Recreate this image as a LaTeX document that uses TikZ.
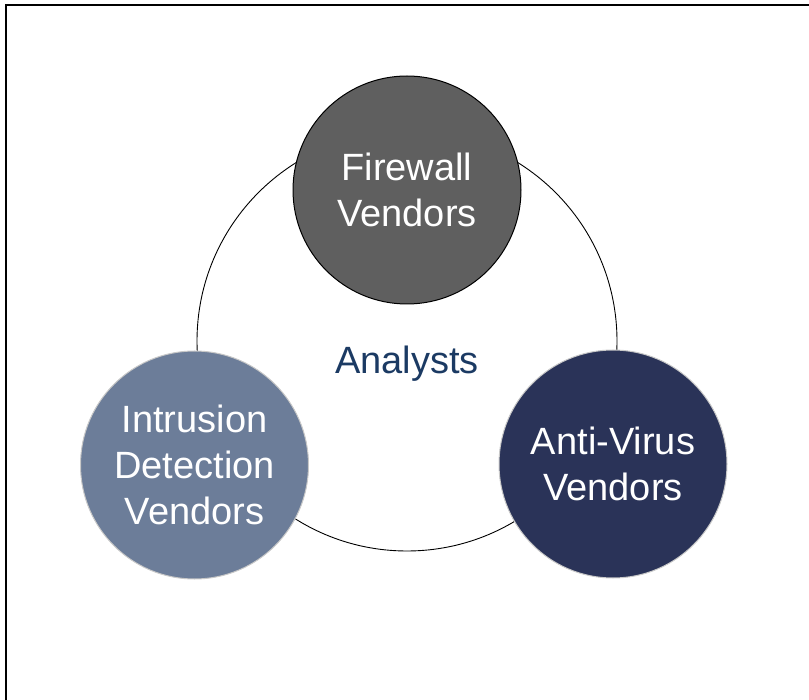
\documentclass[tikz,border=0pt]{standalone}
\usepackage{fontspec}
\setmainfont{Liberation Sans}
\definecolor{fwfill}{HTML}{5F5F5F}
\definecolor{idfill}{HTML}{6C7D99}
\definecolor{avfill}{HTML}{2A3358}
\definecolor{ringgray}{HTML}{C8C8C8}
\definecolor{analystblue}{HTML}{1B3A63}
\tikzset{
  vendor/.style={circle, minimum size=228pt, inner sep=0pt, align=center,
    text=white, font=\fontsize{38}{46}\selectfont, line width=1pt},
}
\begin{document}
\begin{tikzpicture}[x=1pt,y=-1pt]
\useasboundingbox (0,0) rectangle (809,700);
% frame
\coordinate (fr) at (809,5.5);
\coordinate (fc) at (5.5,5.5);
\coordinate (fb) at (5.5,700);
\draw[line width=2pt] (fr) -- (fc) -- (fb);
% big ring
\node[circle, draw=black, line width=0.9pt, minimum size=420pt, inner sep=0pt] (ring) at (407,341) {};
\node[text=analystblue, font=\fontsize{38}{46}\selectfont] (analysts) at (407,364) {Analysts};
% vendors
\node[vendor, fill=fwfill, draw=black] (fw) at (407,190) {Firewall\\Vendors};
\node[vendor, fill=idfill, draw=ringgray] (ids) at (194.5,465) {Intrusion\\Detection\\Vendors};
\node[vendor, fill=avfill, draw=ringgray] (av) at (613,464) {Anti-Virus\\Vendors};
\end{tikzpicture}
\end{document}
